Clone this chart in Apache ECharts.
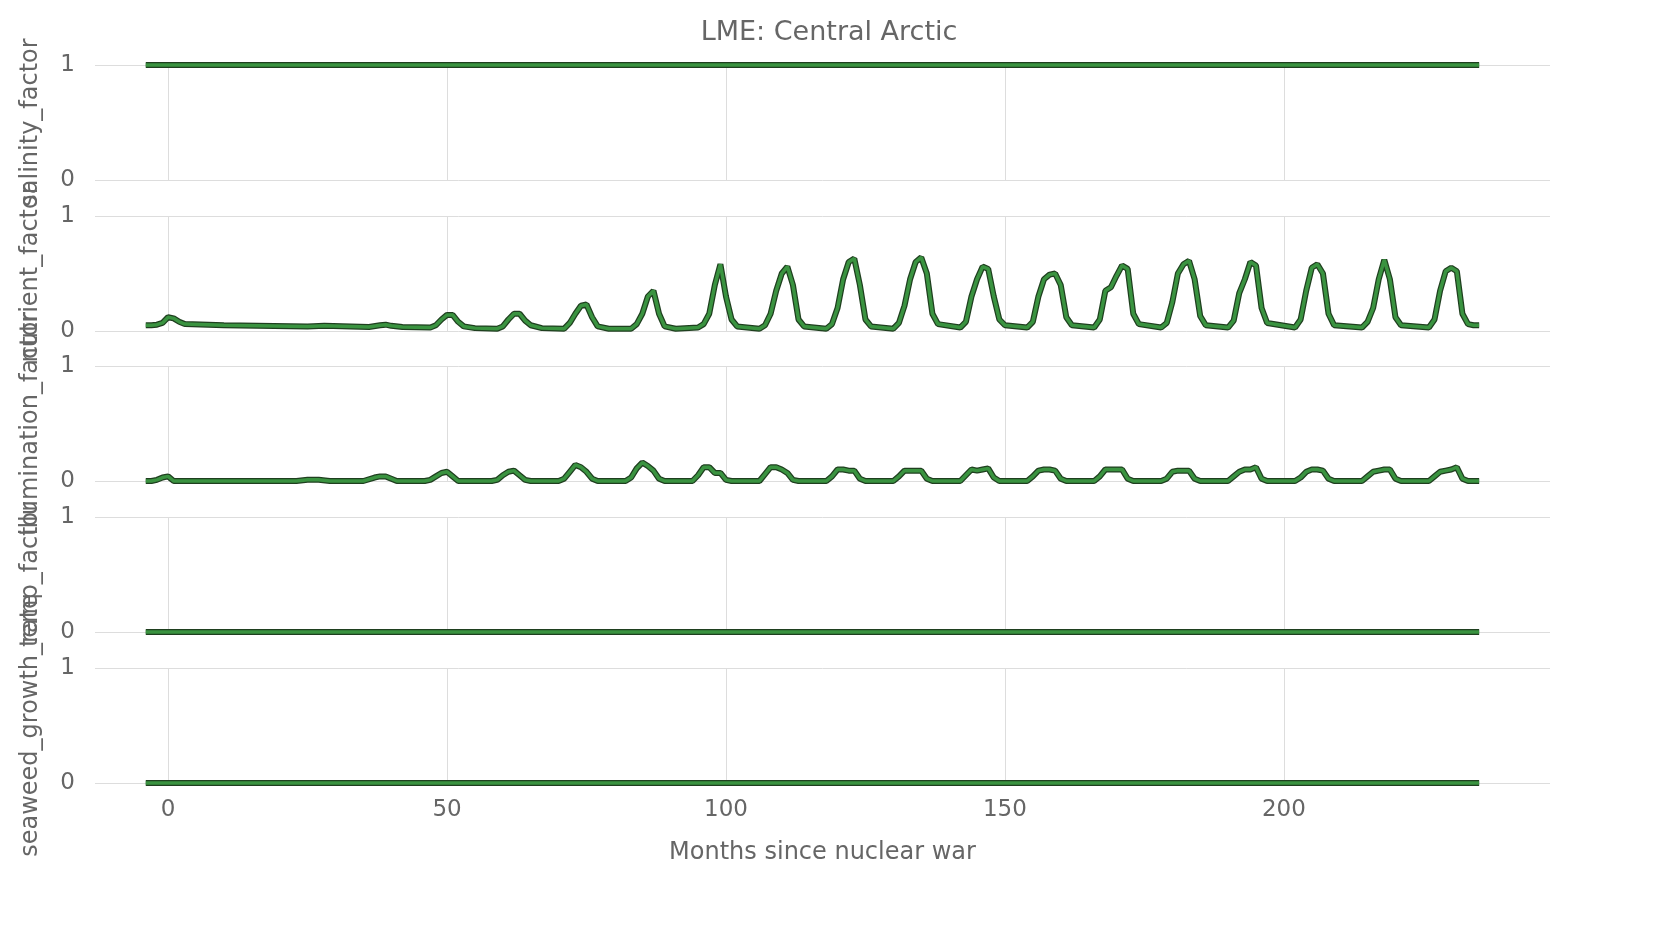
<!DOCTYPE html>
<html>
<head>
<meta charset="utf-8">
<script src="https://cdn.jsdelivr.net/npm/echarts@6/dist/echarts.min.js"></script>
<style>html,body{margin:0;padding:0;background:#fff}#main{width:1658px;height:938px}</style>
</head>
<body>
<div id="main"></div>
<script>
// panel names (top to bottom)
var panelNames = ['salinity_factor', 'nutrient_factor', 'illumination_factor', 'temp_factor', 'seaweed_growth_rate'];
var xTicks = [0, 50, 100, 150, 200];

// [month, value] pairs
var salinity = [[-4, 1], [235, 1]];
var nutrient = [[-4,0.05],[-3,0.05],[-2,0.055],[-1,0.07],[0,0.12],[1,0.11],[2,0.08],[3,0.06],[10,0.05],[25,0.04],[28,0.045],[36,0.035],
  [38,0.05],[39,0.055],[40,0.045],[42,0.035],[47,0.03],[48,0.05],[49,0.1],[50,0.14],[51,0.14],[52,0.08],[53,0.04],[55,0.025],
  [59,0.02],[60,0.04],[61,0.1],[62,0.15],[63,0.15],[64,0.09],[65,0.05],[67,0.025],[71,0.02],[72,0.07],[73,0.15],[74,0.22],[75,0.23],
  [76,0.12],[77,0.04],[79,0.02],[83,0.02],[84,0.06],[85,0.15],[86,0.3],[87,0.35],[88,0.15],[89,0.04],[91,0.02],[95,0.03],[96,0.06],
  [97,0.15],[98,0.4],[99,0.58],[100,0.3],[101,0.1],[102,0.04],[106,0.02],[107,0.05],[108,0.15],[109,0.35],[110,0.5],[111,0.56],
  [112,0.4],[113,0.1],[114,0.04],[118,0.02],[119,0.06],[120,0.2],[121,0.45],[122,0.6],[123,0.63],[124,0.4],[125,0.1],[126,0.04],
  [130,0.02],[131,0.07],[132,0.22],[133,0.45],[134,0.6],[135,0.64],[136,0.5],[137,0.15],[138,0.06],[142,0.03],[143,0.08],[144,0.3],
  [145,0.45],[146,0.56],[147,0.54],[148,0.3],[149,0.1],[150,0.05],[154,0.03],[155,0.08],[156,0.3],[157,0.45],[158,0.49],[159,0.5],
  [160,0.4],[161,0.12],[162,0.05],[166,0.03],[167,0.1],[168,0.35],[169,0.38],[170,0.48],[171,0.57],[172,0.54],[173,0.15],[174,0.06],
  [178,0.03],[179,0.07],[180,0.25],[181,0.5],[182,0.58],[183,0.61],[184,0.45],[185,0.13],[186,0.05],[190,0.03],[191,0.09],[192,0.33],
  [193,0.45],[194,0.6],[195,0.57],[196,0.2],[197,0.07],[202,0.03],[203,0.1],[204,0.35],[205,0.55],[206,0.58],[207,0.5],[208,0.15],
  [209,0.05],[214,0.03],[215,0.08],[216,0.2],[217,0.45],[218,0.62],[219,0.45],[220,0.12],[221,0.05],[226,0.03],[227,0.1],[228,0.35],
  [229,0.52],[230,0.55],[231,0.52],[232,0.15],[233,0.06],[234,0.05],[235,0.05]];
var illumination = [[-4,0],[-3,0],[-2,0.01],[-1,0.03],[0,0.04],[1,0],[23,0],[25,0.01],[27,0.01],[29,0],[35,0],[37,0.03],[38,0.04],
  [39,0.04],[40,0.02],[41,0],[46,0],[47,0.01],[48,0.04],[49,0.07],[50,0.08],[51,0.04],[52,0],[58,0],[59,0.01],[60,0.05],[61,0.08],
  [62,0.09],[63,0.05],[64,0.01],[65,0],[70,0],[71,0.02],[72,0.08],[73,0.14],[74,0.12],[75,0.08],[76,0.02],[77,0],[82,0],[83,0.03],
  [84,0.11],[85,0.16],[86,0.13],[87,0.09],[88,0.02],[89,0],[94,0],[95,0.05],[96,0.12],[97,0.12],[98,0.07],[99,0.07],[100,0.01],
  [101,0],[106,0],[107,0.06],[108,0.12],[109,0.12],[110,0.1],[111,0.07],[112,0.01],[113,0],[118,0],[119,0.04],[120,0.1],[121,0.1],
  [122,0.09],[123,0.09],[124,0.02],[125,0],[130,0],[131,0.04],[132,0.09],[133,0.09],[134,0.09],[135,0.09],[136,0.02],[137,0],
  [142,0],[143,0.05],[144,0.1],[145,0.09],[146,0.1],[147,0.11],[148,0.03],[149,0],[154,0],[155,0.04],[156,0.09],[157,0.1],[158,0.1],
  [159,0.09],[160,0.02],[161,0],[166,0],[167,0.04],[168,0.1],[169,0.1],[170,0.1],[171,0.1],[172,0.02],[173,0],[178,0],[179,0.02],
  [180,0.08],[181,0.09],[182,0.09],[183,0.09],[184,0.02],[185,0],[190,0],[191,0.04],[192,0.08],[193,0.1],[194,0.1],[195,0.12],
  [196,0.02],[197,0],[202,0],[203,0.03],[204,0.08],[205,0.1],[206,0.1],[207,0.09],[208,0.02],[209,0],[214,0],[215,0.04],[216,0.08],
  [217,0.09],[218,0.1],[219,0.1],[220,0.02],[221,0],[226,0],[227,0.04],[228,0.08],[229,0.09],[230,0.1],[231,0.12],[232,0.02],
  [233,0],[235,0]];
var temp = [[-4, 0], [235, 0]];
var seaweed = [[-4, 0], [235, 0]];
var panelData = [salinity, nutrient, illumination, temp, seaweed];

var font = 'DejaVu Sans';
var tops = [65, 216, 366, 517, 668];
var grids = [], xAxes = [], yAxes = [], series = [];
for (var i = 0; i < 5; i++) {
    grids.push({left: 95, right: 108, top: tops[i], height: 115});
    var last = i == 4;
    xAxes.push({
        type: 'value', gridIndex: i, min: -13.1, max: 247.7,
        axisLine: {show: false},
        axisTick: {show: false, customValues: xTicks},
        axisLabel: {show: last, customValues: xTicks, color: '#666', fontSize: 23, fontFamily: font, margin: 16},
        splitLine: {show: true, lineStyle: {color: '#dddddd'}},
        name: last ? 'Months since nuclear war' : '',
        nameLocation: 'middle', nameGap: 58,
        nameTextStyle: {color: '#666', fontSize: 24, fontFamily: font}
    });
    yAxes.push({
        type: 'value', gridIndex: i, min: 0, max: 1, interval: 1,
        axisLine: {show: false}, axisTick: {show: false},
        axisLabel: {color: '#666', fontSize: 23, fontFamily: font, margin: 20},
        splitLine: {lineStyle: {color: '#dddddd'}},
        name: panelNames[i], nameLocation: 'middle', nameGap: 52, nameRotate: 90,
        nameTextStyle: {color: '#666', fontSize: 24, fontFamily: font}
    });
    // dark outline then green line on top
    series.push({type: 'line', xAxisIndex: i, yAxisIndex: i, data: panelData[i], symbol: 'none', clip: false,
        lineStyle: {color: '#1f3f1f', width: 6}, z: 2, silent: true});
    series.push({type: 'line', xAxisIndex: i, yAxisIndex: i, data: panelData[i], symbol: 'none', clip: false,
        lineStyle: {color: '#3a9340', width: 3.5}, z: 3, silent: true});
}

var chart = echarts.init(document.getElementById('main'));
chart.setOption({
    animation: false,
    title: {text: 'LME: Central Arctic', left: 'center', top: 14, textStyle: {color: '#666', fontSize: 27, fontFamily: font, fontWeight: 'normal'}},
    grid: grids, xAxis: xAxes, yAxis: yAxes, series: series
});
</script>
</body>
</html>
